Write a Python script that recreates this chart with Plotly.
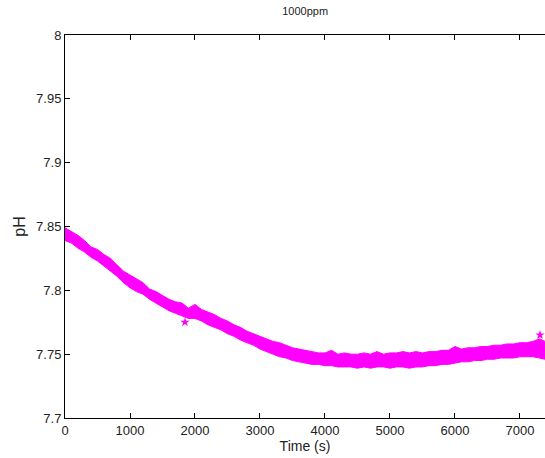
import plotly.graph_objects as go

time_s = [0, 100, 200, 300, 400, 500, 600, 700, 800, 900,
          1000, 1100, 1200, 1300, 1400, 1500, 1600, 1700, 1800, 1900,
          2000, 2100, 2200, 2300, 2400, 2500, 2600, 2700, 2800, 2900,
          3000, 3100, 3200, 3300, 3400, 3500, 3600, 3700, 3800, 3900,
          4000, 4100, 4200, 4300, 4400, 4500, 4600, 4700, 4800, 4900,
          5000, 5100, 5200, 5300, 5400, 5500, 5600, 5700, 5800, 5900,
          6000, 6100, 6200, 6300, 6400, 6500, 6600, 6700, 6800, 6900,
          7000, 7100, 7200, 7300, 7385]
ph_upper = [7.849, 7.846, 7.843, 7.839, 7.834, 7.832, 7.828, 7.825, 7.820, 7.815,
            7.812, 7.809, 7.806, 7.801, 7.799, 7.796, 7.793, 7.791, 7.790, 7.786,
            7.789, 7.785, 7.783, 7.781, 7.778, 7.776, 7.773, 7.771, 7.768, 7.766,
            7.764, 7.762, 7.760, 7.759, 7.757, 7.755, 7.754, 7.753, 7.752, 7.751,
            7.751, 7.753, 7.750, 7.751, 7.750, 7.750, 7.751, 7.750, 7.752, 7.750,
            7.751, 7.751, 7.752, 7.751, 7.752, 7.751, 7.752, 7.752, 7.753, 7.753,
            7.756, 7.754, 7.755, 7.755, 7.756, 7.756, 7.757, 7.757, 7.758, 7.758,
            7.759, 7.759, 7.760, 7.762, 7.760]
ph_lower = [7.839, 7.837, 7.833, 7.830, 7.826, 7.823, 7.819, 7.815, 7.811, 7.806,
            7.802, 7.799, 7.797, 7.793, 7.790, 7.787, 7.784, 7.782, 7.780, 7.778,
            7.778, 7.776, 7.773, 7.771, 7.769, 7.766, 7.764, 7.761, 7.759, 7.757,
            7.754, 7.752, 7.750, 7.748, 7.747, 7.745, 7.744, 7.743, 7.742, 7.742,
            7.741, 7.741, 7.740, 7.740, 7.740, 7.739, 7.740, 7.739, 7.740, 7.740,
            7.739, 7.740, 7.740, 7.739, 7.740, 7.740, 7.741, 7.741, 7.742, 7.742,
            7.743, 7.744, 7.744, 7.745, 7.745, 7.746, 7.746, 7.747, 7.747, 7.747,
            7.748, 7.748, 7.748, 7.747, 7.746]

# stray points outside the band
outlier_t = [1846, 7308]
outlier_ph = [7.775, 7.765]

y_ticks = [7.7, 7.75, 7.8, 7.85, 7.9, 7.95, 8.0]
y_labels = ["7.7", "7.75", "7.8", "7.85", "7.9", "7.95", "8"]
x_ticks = [0, 1000, 2000, 3000, 4000, 5000, 6000, 7000]

magenta = "#ff00ff"
text_col = "#222222"

fig = go.Figure()
fig.add_trace(go.Scatter(x=time_s, y=ph_lower, mode="lines",
                         line=dict(color=magenta, width=1), hoverinfo="skip"))
fig.add_trace(go.Scatter(x=time_s, y=ph_upper, mode="lines", fill="tonexty",
                         fillcolor=magenta, line=dict(color=magenta, width=1)))
fig.add_trace(go.Scatter(x=outlier_t, y=outlier_ph, mode="markers",
                         marker=dict(color=magenta, symbol="star", size=7)))

fig.update_layout(
    width=545, height=458,
    margin=dict(l=65, r=0, t=35, b=40),
    paper_bgcolor="white", plot_bgcolor="white",
    showlegend=False,
    font=dict(family="Liberation Sans, Arial, sans-serif", size=13, color=text_col),
    title=dict(text="1000ppm", x=0.56, xanchor="center", y=0.975, yanchor="middle",
               font=dict(size=11, color=text_col)),
)
fig.update_xaxes(range=[0, 7385], tickvals=x_ticks, ticks="inside", ticklen=5,
                 tickcolor="black", showline=True, linecolor="black", linewidth=1,
                 mirror="ticks", showgrid=False, zeroline=False,
                 title=dict(text="Time (s)", standoff=3, font=dict(size=14)))
fig.update_yaxes(range=[7.7, 8.0], tickvals=y_ticks, ticktext=y_labels,
                 ticks="inside", ticklen=5, tickcolor="black", showline=True,
                 linecolor="black", linewidth=1, showgrid=False, zeroline=False,
                 title=dict(text="pH", standoff=6))

# drop the default page margin so the figure sits at the window's top-left corner
fig.write_html("out.html", config={"displayModeBar": False},
               post_script="document.body.style.margin='0px';")
